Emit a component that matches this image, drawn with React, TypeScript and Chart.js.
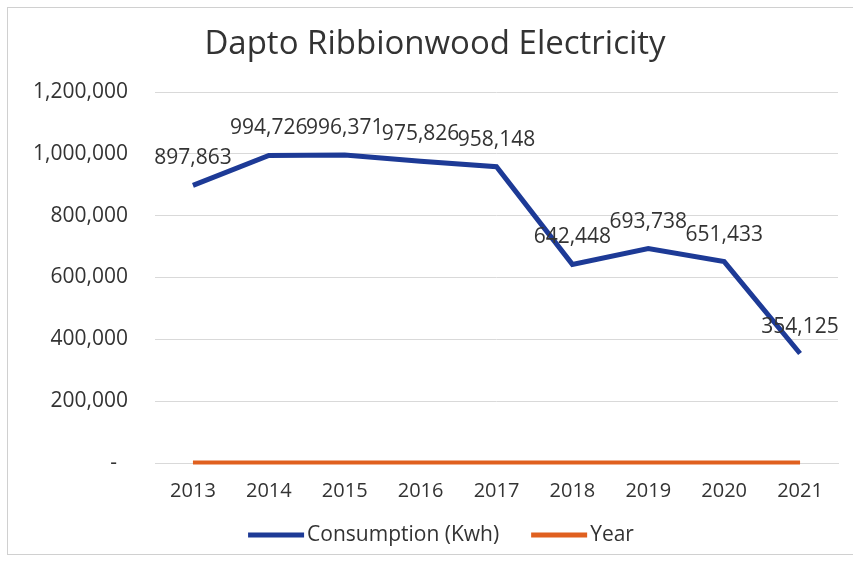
import React, { useEffect, useRef } from "react";
import { Chart, registerables } from "chart.js";

Chart.register(...registerables);

const TITLE = "Dapto Ribbionwood Electricity";
const categories = ["2013", "2014", "2015", "2016", "2017", "2018", "2019", "2020", "2021"];
const consumption = [897863, 994726, 996371, 975826, 958148, 642448, 693738, 651433, 354125];
const yearSeries = [2013, 2014, 2015, 2016, 2017, 2018, 2019, 2020, 2021];
const yTicks = [0, 200000, 400000, 600000, 800000, 1000000, 1200000];

const FONT = "'Open Sans', 'Noto Sans', sans-serif";
const TEXT = "#333333";
const BLUE = "#1d3a96";
const ORANGE = "#e0601f";

const fmt = (v: number) => v.toLocaleString("en-US");

const dataLabels = {
  id: "dataLabels",
  afterDatasetsDraw(chart: any) {
    const meta = chart.getDatasetMeta(0);
    const ctx = chart.ctx;
    ctx.save();
    ctx.font = `21px ${FONT}`;
    ctx.fillStyle = TEXT;
    ctx.textAlign = "center";
    ctx.textBaseline = "middle";
    meta.data.forEach((pt: any, i: number) => {
      ctx.fillText(fmt(consumption[i]), pt.x, pt.y - 27);
    });
    ctx.restore();
  },
};

const titleAndLegend = {
  id: "titleAndLegend",
  afterDraw(chart: any) {
    const ctx = chart.ctx;
    ctx.save();
    // title
    ctx.font = `33px ${FONT}`;
    ctx.fillStyle = TEXT;
    ctx.textAlign = "center";
    ctx.textBaseline = "middle";
    ctx.fillText(TITLE, chart.width / 2 + 4, 37);

    // legend
    ctx.font = `21px ${FONT}`;
    const sampleW = 56;
    const gapText = 3;
    const gapItem = 32;
    const items = chart.data.datasets.map((ds: any) => ({
      text: ds.label,
      color: ds.borderColor,
      w: ctx.measureText(ds.label).width,
    }));
    let total = 0;
    items.forEach((it: any, i: number) => {
      total += sampleW + gapText + it.w + (i < items.length - 1 ? gapItem : 0);
    });
    let x = chart.width / 2 + 10 - total / 2;
    const y = 527;
    ctx.textAlign = "left";
    items.forEach((it: any) => {
      ctx.fillStyle = it.color;
      ctx.fillRect(x, y - 2.5, sampleW, 5);
      x += sampleW + gapText;
      ctx.fillStyle = TEXT;
      ctx.fillText(it.text, x, y);
      x += it.w + gapItem;
    });
    ctx.restore();
  },
};

export default function App() {
  const ref = useRef<HTMLCanvasElement | null>(null);
  useEffect(() => {
    if (!ref.current) return;
    const chart = new Chart(ref.current, {
      type: "line",
      data: {
        labels: categories,
        datasets: [
          {
            label: "Consumption (Kwh)",
            data: consumption,
            borderColor: BLUE,
            backgroundColor: BLUE,
            borderWidth: 5,
            pointRadius: 0,
            tension: 0,
            clip: 10,
          },
          {
            label: "Year",
            data: yearSeries,
            borderColor: ORANGE,
            backgroundColor: ORANGE,
            borderWidth: 4,
            pointRadius: 0,
            tension: 0,
            clip: 10,
          },
        ],
      },
      options: {
        responsive: false,
        animation: false,
        layout: { padding: { left: 0, right: 16, top: 84, bottom: 40 } },
        plugins: {
          title: { display: false },
          legend: { display: false },
          tooltip: { enabled: false },
        },
        scales: {
          x: {
            offset: true,
            grid: { display: false, drawTicks: false },
            border: { display: true, color: "#d9d9d9", width: 1 },
            ticks: {
              color: TEXT,
              font: { family: FONT, size: 20 },
              padding: 16,
              maxRotation: 0,
            },
            afterFit(axis: any) {
              axis.height = 51;
            },
          },
          y: {
            min: 0,
            max: 1200000,
            afterBuildTicks(axis: any) {
              axis.ticks = yTicks.map((v) => ({ value: v }));
            },
            afterFit(axis: any) {
              axis.width = 147;
            },
            grid: { color: "#d9d9d9", drawTicks: false },
            border: { display: false },
            ticks: {
              color: TEXT,
              font: { family: FONT, size: 21 },
              padding: 27,
              callback: (v: any) => (Number(v) === 0 ? "-\u00A0\u00A0" : fmt(Number(v))),
            },
          },
        },
      },
      plugins: [dataLabels, titleAndLegend],
    });
    return () => chart.destroy();
  }, []);

  return (
    <div
      style={{
        position: "absolute",
        left: 7,
        top: 7,
        width: 848,
        height: 548,
        boxSizing: "border-box",
        border: "1px solid #d0d0d0",
        background: "#ffffff",
      }}
    >
      <canvas ref={ref} width={846} height={546} style={{ display: "block" }} />
    </div>
  );
}
